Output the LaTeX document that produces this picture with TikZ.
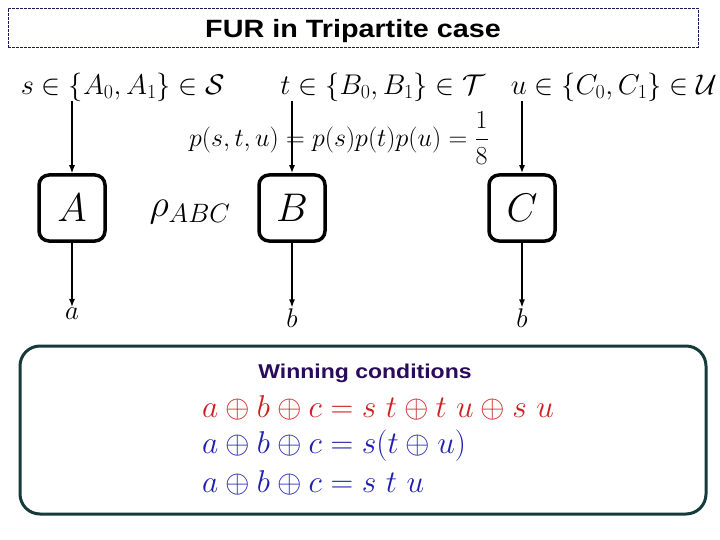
\RequirePackage{fix-cm}
\documentclass[tikz,border=0pt]{standalone}
\usepackage{amsmath}
\usepackage{fontspec}
\usepackage{tikz}
\usetikzlibrary{positioning,arrows.meta}
\setsansfont{Liberation Sans}
\newfontfamily\headfont[FakeStretch=1.15]{Liberation Sans}
\definecolor{titlenavy}{HTML}{1A1A5E}
\definecolor{panelteal}{HTML}{163A3A}
\definecolor{headpurple}{HTML}{2A0A5A}
\definecolor{condred}{HTML}{CC2020}
\definecolor{condblue}{HTML}{2020B0}

\begin{document}
\begin{tikzpicture}[x=1pt, y=-1pt,
  party/.style={draw, line width=3.5pt, rounded corners=10pt, minimum width=66pt, minimum height=66pt, font=\fontsize{40}{44}\selectfont},
  setlabel/.style={font=\fontsize{28.5}{32}\selectfont, inner sep=0pt},
  outlabel/.style={font=\fontsize{27}{29}\selectfont, inner sep=1pt},
  cond/.style={font=\fontsize{31.5}{34}\selectfont, anchor=west, inner sep=0pt},
  feed/.style={-{Latex[length=8pt,width=6pt]}, line width=1.3pt},
]
  \useasboundingbox (0,0) rectangle (720,540);

  % Title bar
  \node[draw=titlenavy, line width=1pt, dash pattern=on 3pt off 1pt, minimum width=690pt, minimum height=39pt] (titlebar) at (353,28) {};
  \node[font=\headfont\bfseries\fontsize{25}{28}\selectfont] (title) at (353,31) {FUR in Tripartite case};

  % Inputs
  \node[setlabel] (sset) at (123,87) {$s\in\{A_0,A_1\}\in\mathcal{S}$};
  \node[setlabel] (tset) at (383,87) {$t\in\{B_0,B_1\}\in\mathcal{T}$};
  \node[setlabel] (uset) at (614,87) {$u\in\{C_0,C_1\}\in\mathcal{U}$};
  \node[font=\fontsize{26}{30}\selectfont] (prob) at (339,138) {$p(s,t,u)=p(s)p(t)p(u)=\dfrac{1}{8}$};

  % Parties
  \node[party] (boxA) at (72,208) {$A$};
  \node[party] (boxB) at (292,208) {$B$};
  \node[party] (boxC) at (522,208) {$C$};
  \node[font=\fontsize{38}{40}\selectfont] (rho) at (190,212) {$\rho_{ABC}$};

  % Outputs
  \node[outlabel] (outa) at (72,314) {$a$};
  \node[outlabel] (outb) at (292,318) {$b$};
  \node[outlabel] (outc) at (522,318) {$b$};

  % Connections
  \draw[feed] (sset.south -| boxA.north) -- (boxA.north);
  \draw[feed, line width=2.6pt] (tset.south -| boxB.north) -- (boxB.north);
  \draw[feed, line width=1.8pt] (uset.south -| boxC.north) -- (boxC.north);
  \draw[feed] (boxA.south) -- (outa.north);
  \draw[feed] (boxB.south) -- (outb.north);
  \draw[feed] (boxC.south) -- (outc.north);

  % Winning conditions
  \node[draw=panelteal, line width=3pt, rounded corners=20pt, minimum width=686pt, minimum height=168pt] (panel) at (363,430) {};
  \node[font=\headfont\bfseries\fontsize{20}{24}\selectfont, text=headpurple] (wintitle) at (365,373) {Winning conditions};
  \node[cond, text=condred] (cond1) at (202,408) {$a\oplus b\oplus c=s\ t\oplus t\ u\oplus s\ u$};
  \node[cond, text=condblue] (cond2) at (202,446) {$a\oplus b\oplus c=s(t\oplus u)$};
  \node[cond, text=condblue] (cond3) at (202,483) {$a\oplus b\oplus c=s\ t\ u$};

\end{tikzpicture}
\end{document}
